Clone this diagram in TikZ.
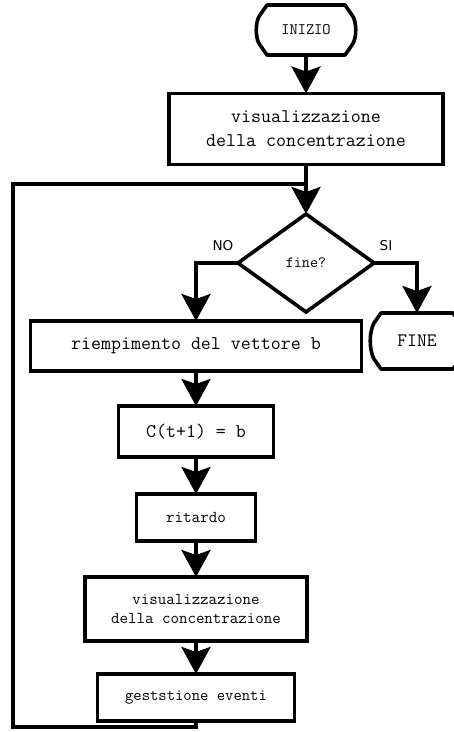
\documentclass[tikz,border=0pt]{standalone}
\usepackage{fontspec}
\newfontfamily\labfont{DejaVu Sans}
\usetikzlibrary{arrows.meta,shapes.geometric,calc}
\newcommand\termpath[1]{%
  \draw[line, line join=round]
    ($(#1.north west)+(11,0)$) -- ($(#1.north east)+(-11,0)$)
    -- ($(#1.north east)+(-4,10)$)
    .. controls ($(#1.east)+(1,-9)$) and ($(#1.east)+(1,9)$) ..
    ($(#1.south east)+(-4,-10)$) -- ($(#1.south east)+(-11,0)$)
    -- ($(#1.south west)+(11,0)$) -- ($(#1.south west)+(4,-10)$)
    .. controls ($(#1.west)+(-1,9)$) and ($(#1.west)+(-1,-9)$) ..
    ($(#1.north west)+(4,10)$) -- cycle;}
\begin{document}
\begin{tikzpicture}[x=1pt,y=-1pt,
  line/.style={line width=3.6pt},
  arr/.style={line, -{Stealth[length=27pt,width=29pt,inset=5pt]}},
  box/.style={draw, line width=3.6pt, rectangle, inner sep=0pt, outer sep=0pt, align=center},
  term/.style={inner sep=0pt, outer sep=0pt, align=center},
  dec/.style={draw, diamond, line width=3.6pt, inner sep=0pt, outer sep=0pt, minimum width=136pt, minimum height=98pt},
  lab/.style={font=\labfont\fontsize{13.5}{15}\selectfont},
  tt/.style={font=\ttfamily\fontsize{#1}{1.2*#1}\selectfont}
]
\useasboundingbox (0,0) rectangle (454,732);

\node[term, minimum width=100pt, minimum height=50pt, font=\ttfamily\fontsize{16}{18}\selectfont] (inizio) at (306,30) {INIZIO};
\termpath{inizio}

\node[box, minimum width=274pt, minimum height=71pt, font=\ttfamily\fontsize{19.4}{24}\selectfont] (v1) at (306,129) {visualizzazione\\della concentrazione};

\node[dec, font=\ttfamily\fontsize{15.7}{18}\selectfont] (dia) at (306,263) {fine?};

\node[term, minimum width=94pt, minimum height=56pt, font=\ttfamily\fontsize{19}{21}\selectfont] (fine) at (417,341) {FINE};
\termpath{fine}

\node[box, minimum width=331pt, minimum height=50pt, font=\ttfamily\fontsize{19.4}{22}\selectfont] (v2) at (196,346) {riempimento del vettore b};
\node[box, minimum width=155pt, minimum height=51pt, font=\ttfamily\fontsize{19.4}{22}\selectfont] (v3) at (196,431.5) {C(t+1) = b};
\node[box, minimum width=119pt, minimum height=47pt, font=\ttfamily\fontsize{16.6}{19}\selectfont] (v4) at (196,517.5) {ritardo};
\node[box, minimum width=222pt, minimum height=64pt, font=\ttfamily\fontsize{16.5}{19}\selectfont] (v5) at (196,609) {visualizzazione\\della concentrazione};
\node[box, minimum width=197pt, minimum height=47pt, font=\ttfamily\fontsize{16.2}{19}\selectfont] (v6) at (196,697.5) {geststione eventi};

\node[lab] (no) at (223,246) {NO};
\node[lab] (si) at (386,246) {SI};

\coordinate (bb) at (196,727);
\coordinate (lb) at (13,727);
\coordinate (lt) at (13,184);
\coordinate (jn) at (306,184);

\draw[arr] (inizio.south) -- (v1.north);
\draw[arr] (v1.south) -- (dia.north);
\draw[arr] (dia.west) -| (v2.north);
\draw[arr] (dia.east) -| (fine.north);
\draw[arr] (v2.south) -- (v3.north);
\draw[arr] (v3.south) -- (v4.north);
\draw[arr] (v4.south) -- (v5.north);
\draw[arr] (v5.south) -- (v6.north);
\draw[line] (v6.south) -- (bb) -- (lb) -- (lt) -- (jn);
\end{tikzpicture}
\end{document}
